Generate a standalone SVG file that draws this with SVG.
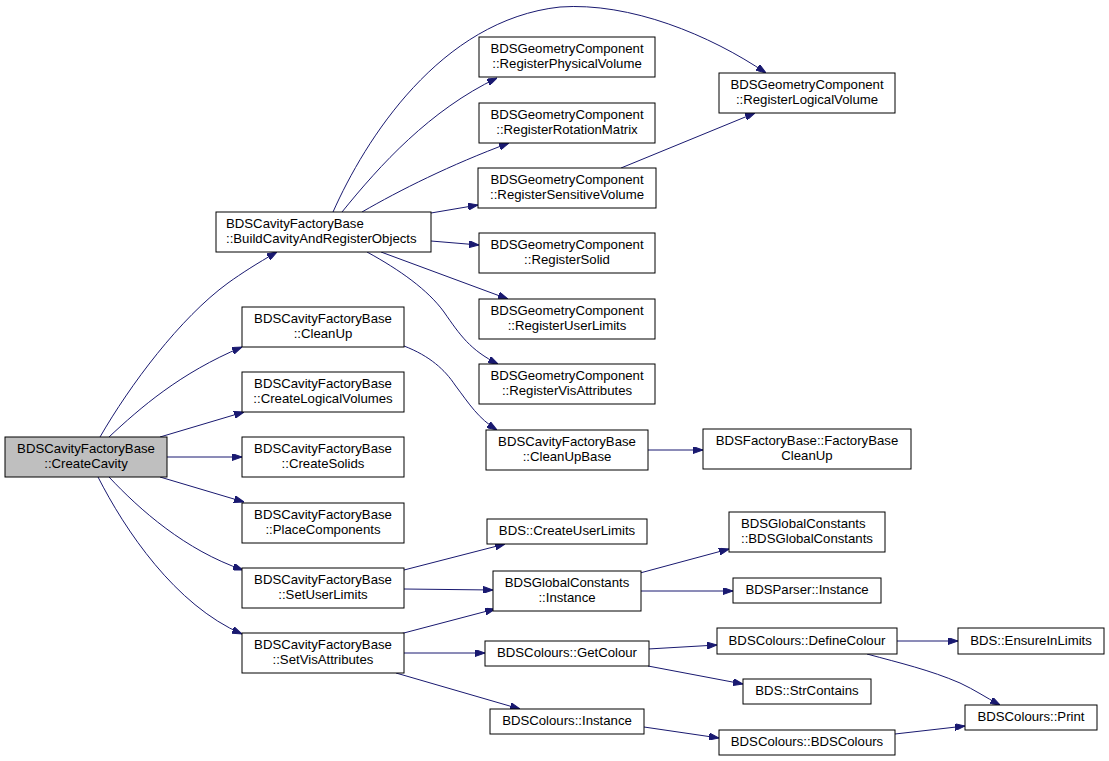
<svg xmlns="http://www.w3.org/2000/svg" width="1109" height="761" viewBox="0 0 1109 761">
<style>
.n rect{fill:#ffffff;stroke:#000000;stroke-width:1}
.n text{font-family:"Liberation Sans",Arial,Helvetica,sans-serif;font-size:13.2px;fill:#000000;text-anchor:middle}
.n text.l{text-anchor:start}
#edges path{fill:none;stroke:#191970;stroke-width:1;marker-end:url(#ah)}
</style>
<defs>
<marker id="ah" viewBox="0 0 10 7" refX="10" refY="3.5" markerWidth="10" markerHeight="7" markerUnits="userSpaceOnUse" orient="auto">
<path d="M0,0 L10,3.5 L0,7 z" fill="#191970" stroke="#191970"/>
</marker>
</defs>
<rect width="1109" height="761" fill="#ffffff"/>
<g id="edges">
<path d="M100,437 C130,385 180,318 228,283 C242,273 256,264 277,252"/>
<path d="M109,437 C140,408 180,373 242,347"/>
<path d="M160,437 L244,412"/>
<path d="M167,457 L242,457"/>
<path d="M160,477 L244,502"/>
<path d="M109,477 C140,510 185,550 243,570"/>
<path d="M98,477 C125,530 175,605 242,634"/>
<path d="M333,212 C365,140 440,20 560,7 C630,2 710,35 766,73"/>
<path d="M342,212 C380,165 430,110 497,78"/>
<path d="M362,212 C400,190 450,165 509,143"/>
<path d="M431,213 L478,205"/>
<path d="M431,241 L479,245"/>
<path d="M381,252 L508,299"/>
<path d="M367,252 C400,270 428,290 444,312 C460,335 470,350 498,364"/>
<path d="M621,168 L755,113"/>
<path d="M404,346 C430,356 445,370 455,385 C470,405 478,418 497,430"/>
<path d="M648,450 L703,450"/>
<path d="M404,570 L505,544"/>
<path d="M404,589 L493,590"/>
<path d="M400,634 L495,609"/>
<path d="M404,653 L485,653"/>
<path d="M396,673 L520,709"/>
<path d="M640,573 L729,549"/>
<path d="M640,591 L733,591"/>
<path d="M648,649 L717,645"/>
<path d="M648,666 L743,684"/>
<path d="M897,641 L958,641"/>
<path d="M867,654 C900,663 930,670 960,683 C975,690 985,697 1000,705"/>
<path d="M644,727 L719,738"/>
<path d="M895,734 L965,726"/>
</g>
<g id="n0" class="n"><rect x="5" y="437" width="162" height="40" style="fill:#bfbfbf"/><text x="86" y="453">BDSCavityFactoryBase</text><text x="86" y="467.5">::CreateCavity</text></g>
<g id="n1" class="n"><rect x="216" y="212" width="215" height="40"/><text class="l" x="226" y="228">BDSCavityFactoryBase</text><text class="l" x="226" y="242.5">::BuildCavityAndRegisterObjects</text></g>
<g id="n2" class="n"><rect x="242" y="307" width="162" height="40"/><text x="323" y="323">BDSCavityFactoryBase</text><text x="323" y="337.5">::CleanUp</text></g>
<g id="n3" class="n"><rect x="242" y="372" width="162" height="40"/><text x="323" y="388">BDSCavityFactoryBase</text><text x="323" y="402.5">::CreateLogicalVolumes</text></g>
<g id="n4" class="n"><rect x="242" y="437" width="162" height="40"/><text x="323" y="453">BDSCavityFactoryBase</text><text x="323" y="467.5">::CreateSolids</text></g>
<g id="n5" class="n"><rect x="242" y="503" width="162" height="40"/><text x="323" y="519">BDSCavityFactoryBase</text><text x="323" y="533.5">::PlaceComponents</text></g>
<g id="n6" class="n"><rect x="242" y="568" width="162" height="40"/><text x="323" y="584">BDSCavityFactoryBase</text><text x="323" y="598.5">::SetUserLimits</text></g>
<g id="n7" class="n"><rect x="242" y="633" width="162" height="40"/><text x="323" y="649">BDSCavityFactoryBase</text><text x="323" y="663.5">::SetVisAttributes</text></g>
<g id="n8" class="n"><rect x="479" y="37" width="176" height="40"/><text x="567" y="53">BDSGeometryComponent</text><text x="567" y="67.5">::RegisterPhysicalVolume</text></g>
<g id="n9" class="n"><rect x="479" y="103" width="176" height="40"/><text x="567" y="119">BDSGeometryComponent</text><text x="567" y="133.5">::RegisterRotationMatrix</text></g>
<g id="n10" class="n"><rect x="478" y="168" width="178" height="40"/><text x="567" y="184">BDSGeometryComponent</text><text x="567" y="198.5">::RegisterSensitiveVolume</text></g>
<g id="n11" class="n"><rect x="479" y="233" width="176" height="40"/><text x="567" y="249">BDSGeometryComponent</text><text x="567" y="263.5">::RegisterSolid</text></g>
<g id="n12" class="n"><rect x="479" y="299" width="176" height="40"/><text x="567" y="315">BDSGeometryComponent</text><text x="567" y="329.5">::RegisterUserLimits</text></g>
<g id="n13" class="n"><rect x="479" y="364" width="176" height="40"/><text x="567" y="380">BDSGeometryComponent</text><text x="567" y="394.5">::RegisterVisAttributes</text></g>
<g id="n14" class="n"><rect x="719" y="73" width="176" height="40"/><text x="807" y="89">BDSGeometryComponent</text><text x="807" y="103.5">::RegisterLogicalVolume</text></g>
<g id="n15" class="n"><rect x="486" y="430" width="162" height="40"/><text x="567" y="446">BDSCavityFactoryBase</text><text x="567" y="460.5">::CleanUpBase</text></g>
<g id="n16" class="n"><rect x="703" y="429" width="208" height="40"/><text x="807" y="445">BDSFactoryBase::FactoryBase</text><text x="807" y="459.5">CleanUp</text></g>
<g id="n17" class="n"><rect x="487" y="519" width="160" height="25"/><text x="567" y="535">BDS::CreateUserLimits</text></g>
<g id="n18" class="n"><rect x="493" y="571" width="148" height="40"/><text x="567" y="587">BDSGlobalConstants</text><text x="567" y="601.5">::Instance</text></g>
<g id="n19" class="n"><rect x="485" y="641" width="164" height="25"/><text x="567" y="657">BDSColours::GetColour</text></g>
<g id="n20" class="n"><rect x="490" y="709" width="154" height="25"/><text x="567" y="725">BDSColours::Instance</text></g>
<g id="n21" class="n"><rect x="729" y="512" width="156" height="40"/><text class="l" x="741" y="528">BDSGlobalConstants</text><text class="l" x="741" y="542.5">::BDSGlobalConstants</text></g>
<g id="n22" class="n"><rect x="733" y="578" width="148" height="25"/><text x="807" y="594">BDSParser::Instance</text></g>
<g id="n23" class="n"><rect x="717" y="628" width="180" height="26"/><text x="807" y="644.5">BDSColours::DefineColour</text></g>
<g id="n24" class="n"><rect x="743" y="679" width="128" height="25"/><text x="807" y="695">BDS::StrContains</text></g>
<g id="n25" class="n"><rect x="719" y="730" width="176" height="25"/><text x="807" y="746">BDSColours::BDSColours</text></g>
<g id="n26" class="n"><rect x="958" y="628" width="146" height="26"/><text x="1031" y="644.5">BDS::EnsureInLimits</text></g>
<g id="n27" class="n"><rect x="965" y="705" width="132" height="25"/><text x="1031" y="721">BDSColours::Print</text></g>
</svg>
